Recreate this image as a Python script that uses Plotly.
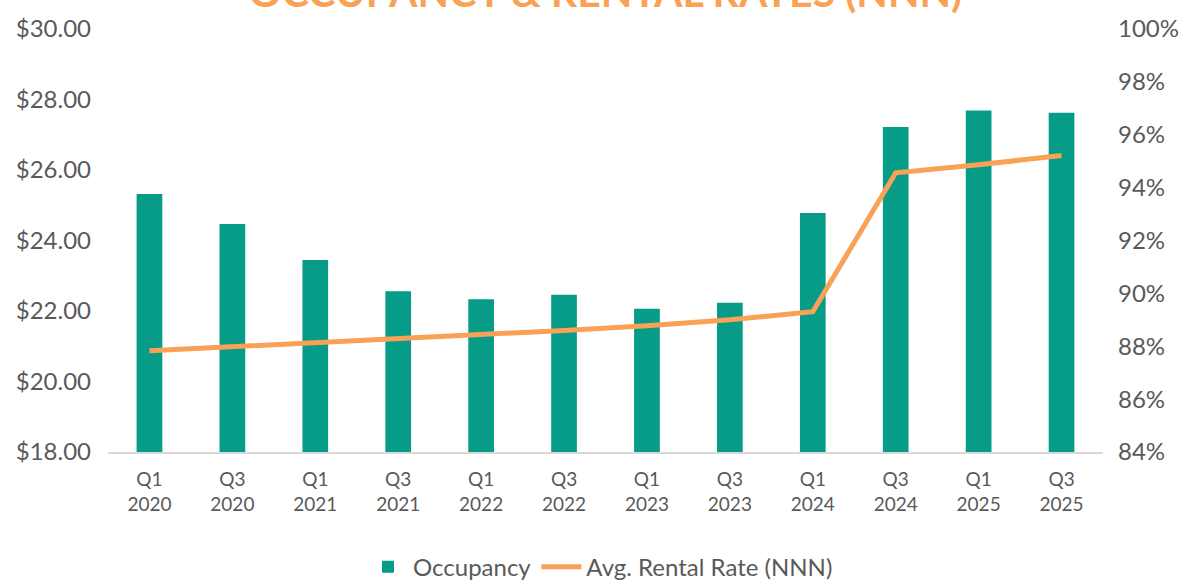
import plotly.graph_objects as go

categories = ["Q1<br>2020", "Q3<br>2020", "Q1<br>2021", "Q3<br>2021", "Q1<br>2022", "Q3<br>2022",
              "Q1<br>2023", "Q3<br>2023", "Q1<br>2024", "Q3<br>2024", "Q1<br>2025", "Q3<br>2025"]
occupancy = [93.76, 92.62, 91.26, 90.08, 89.78, 89.95, 89.42, 89.65, 93.04, 96.29, 96.92, 96.83]
rental_rate = [20.87, 20.98, 21.10, 21.22, 21.34, 21.45, 21.58, 21.75, 21.98, 25.92, 26.15, 26.41]
rent_ticks = [18, 20, 22, 24, 26, 28, 30]
occ_ticks = [84, 86, 88, 90, 92, 94, 96, 98, 100]
occ_tick_labels = [f"{v}%" for v in occ_ticks]

TEAL = "#069C87"
ORANGE = "#F9A155"
GRAY = "#595959"
FONT = "Lato"

fig = go.Figure()
fig.add_trace(go.Bar(
    x=categories, y=occupancy, name="Occupancy", yaxis="y",
    marker=dict(color=TEAL, line=dict(width=0)), width=0.31,
))
fig.add_trace(go.Scatter(
    x=categories, y=rental_rate, name="Avg. Rental Rate (NNN)", yaxis="y2",
    mode="lines", line=dict(color=ORANGE, width=5),
))

fig.update_layout(
    width=1201, height=586,
    margin=dict(l=108, r=98, t=29, b=134),
    paper_bgcolor="white", plot_bgcolor="white",
    font=dict(family=FONT, color=GRAY),
    title=dict(text="<b>OCCUPANCY & RENTAL RATES (NNN)</b>",
               font=dict(family=FONT, size=41, color=ORANGE),
               x=0.5, xanchor="center", xref="paper",
               yref="container", y=0.988, yanchor="bottom"),
    showlegend=True,
    legend=dict(orientation="h", x=0.5, xanchor="center", xref="container",
                y=0.032, yanchor="middle", yref="container",
                font=dict(family=FONT, size=24, color=GRAY),
                traceorder="normal", itemwidth=40),
    xaxis=dict(
        type="category", showgrid=False, showline=True, linecolor="#D9D9D9", linewidth=2,
        ticks="", tickfont=dict(family=FONT, size=19, color=GRAY),
        ticklabelstandoff=9,
    ),
    yaxis=dict(
        side="right", range=[84, 100], tickvals=occ_ticks, ticktext=occ_tick_labels,
        showgrid=False, zeroline=False, showline=False,
        tickfont=dict(family=FONT, size=24, color=GRAY), ticklabelstandoff=14,
    ),
    yaxis2=dict(
        side="left", overlaying="y", range=[18, 30], tickvals=rent_ticks,
        tickformat="$.2f", showgrid=False, zeroline=False, showline=False,
        tickfont=dict(family=FONT, size=24, color=GRAY), ticklabelstandoff=16,
    ),
    bargap=0.69,
)

fig.write_html("out.html")
